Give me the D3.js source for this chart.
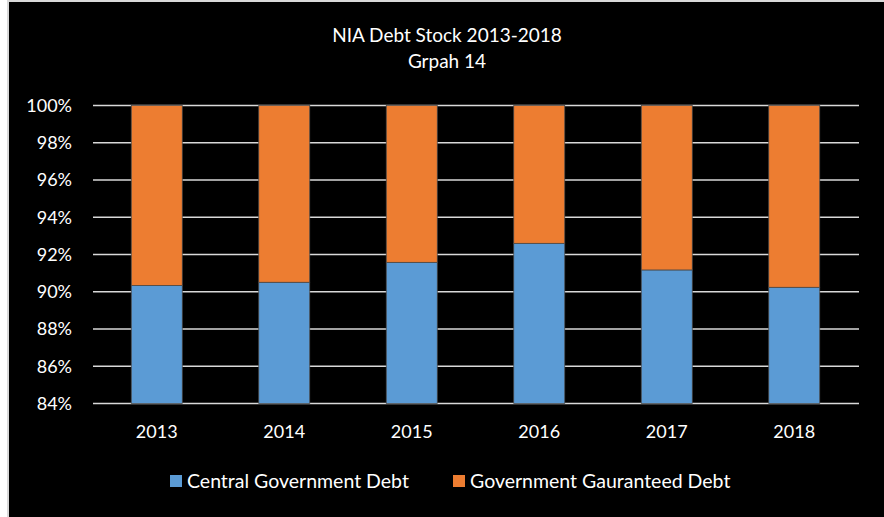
<!DOCTYPE html>
<html>
<head>
<meta charset="utf-8">
<script src="https://cdnjs.cloudflare.com/ajax/libs/d3/7.8.5/d3.min.js"></script>
<style>
  body { margin: 0; background: #fff; }
  svg { display: block; font-family: Lato, "Open Sans", sans-serif; }
</style>
</head>
<body>
<svg id="chart" width="884" height="517"></svg>
<script>
// values (share of total debt stock, %)
const years = ["2013", "2014", "2015", "2016", "2017", "2018"];
const centralDebt = [90.34, 90.51, 91.58, 92.60, 91.17, 90.24];
const guaranteedDebt = [9.66, 9.49, 8.42, 7.40, 8.83, 9.76];
const seriesNames = ["Central Government Debt", "Government Gauranteed Debt"];
const seriesColors = ["#5B9BD5", "#ED7D31"];
const yTicks = [84, 86, 88, 90, 92, 94, 96, 98, 100];

const width = 884, height = 517;
const margin = {top: 105.5, right: 25, bottom: 113.5, left: 93};

const svg = d3.select("#chart");

// chart frame
svg.append("rect")
    .attr("x", 8).attr("y", 1)
    .attr("width", 1000).attr("height", 1000)
    .attr("fill", "#000")
    .attr("stroke", "#d9d9d9")
    .attr("stroke-width", 2);

// title
const title = svg.append("text")
    .attr("x", 447)
    .attr("text-anchor", "middle")
    .attr("fill", "#fff")
    .style("font-size", "19px");
title.append("tspan").attr("x", 447).attr("y", 41.5).text("NIA Debt Stock 2013-2018");
title.append("tspan").attr("x", 447).attr("y", 67.5).text("Grpah 14");

const table = years.map((yr, i) => ({year: yr, central: centralDebt[i], guaranteed: guaranteedDebt[i]}));
const stacked = d3.stack().keys(["central", "guaranteed"])(table);

const x = d3.scaleBand()
    .domain(years)
    .range([margin.left, width - margin.right - 1])
    .paddingInner(0.6)
    .paddingOuter(0.3);

const y = d3.scaleLinear()
    .domain([84, 100])
    .range([height - margin.bottom, margin.top])
    .clamp(true);

// gridlines
svg.append("g")
    .selectAll("line")
    .data(yTicks)
    .enter().append("line")
    .attr("x1", margin.left)
    .attr("x2", width - margin.right)
    .attr("y1", d => y(d))
    .attr("y2", d => y(d))
    .attr("stroke", "#d9d9d9")
    .attr("stroke-width", 1.5);

// y tick labels
svg.append("g")
    .selectAll("text")
    .data(yTicks)
    .enter().append("text")
    .attr("x", 72)
    .attr("y", d => y(d))
    .attr("dy", "0.35em")
    .attr("text-anchor", "end")
    .attr("fill", "#fff")
    .style("font-size", "18px")
    .text(d => d + "%");

// bars
svg.append("g")
    .selectAll("g")
    .data(stacked)
    .enter().append("g")
    .attr("fill", (d, i) => seriesColors[i])
    .selectAll("rect")
    .data(d => d)
    .enter().append("rect")
    .attr("x", d => x(d.data.year))
    .attr("width", x.bandwidth())
    .attr("y", d => y(d[1]))
    .attr("height", d => y(d[0]) - y(d[1]))
    .attr("stroke", "#4a4a4a")
    .attr("stroke-width", 0.75);

// x labels
svg.append("g")
    .selectAll("text")
    .data(years)
    .enter().append("text")
    .attr("x", d => x(d) + x.bandwidth() / 2)
    .attr("y", 437.5)
    .attr("text-anchor", "middle")
    .attr("fill", "#fff")
    .style("font-size", "18px")
    .text(d => d);

// legend
const legendX = [170, 453];
const legend = svg.append("g")
    .selectAll("g")
    .data(seriesNames)
    .enter().append("g")
    .attr("transform", (d, i) => `translate(${legendX[i]},475)`);

legend.append("rect")
    .attr("width", 12)
    .attr("height", 12)
    .attr("fill", (d, i) => seriesColors[i]);

legend.append("text")
    .attr("x", 17)
    .attr("y", 6)
    .attr("dy", "0.35em")
    .attr("fill", "#fff")
    .style("font-size", "19.5px")
    .text(d => d);
</script>
</body>
</html>
